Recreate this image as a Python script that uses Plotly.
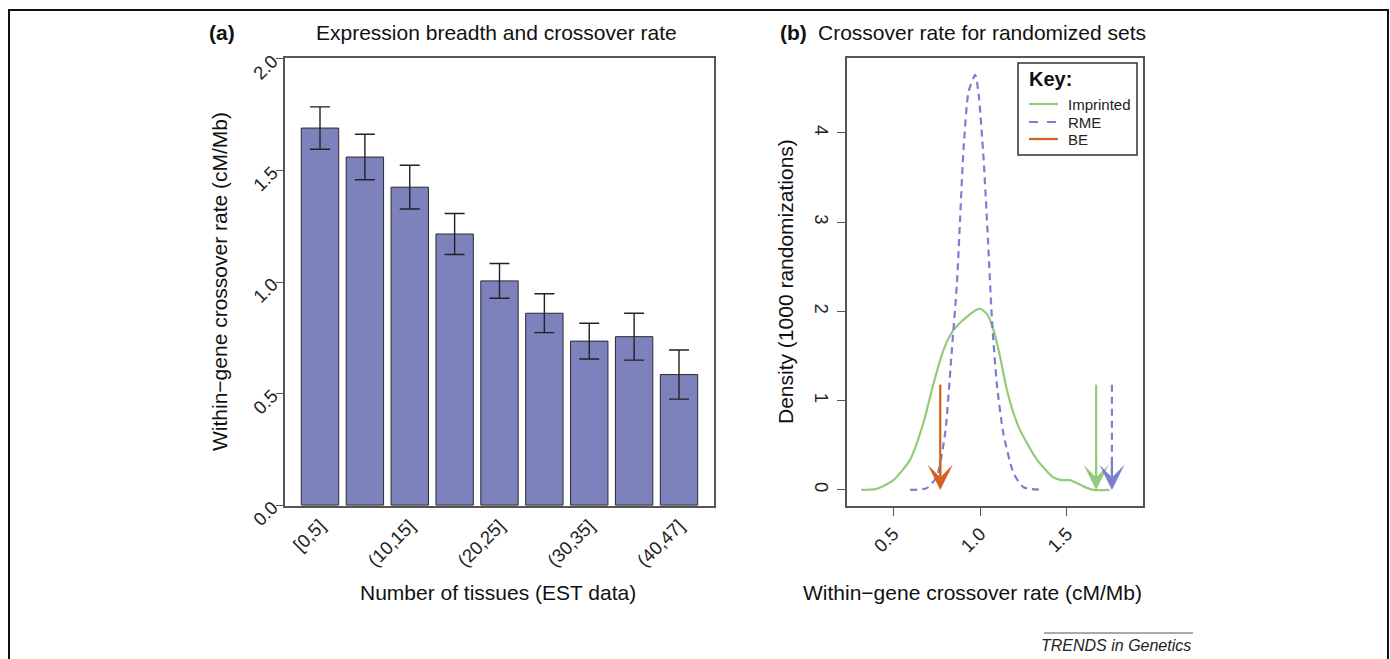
import plotly.graph_objects as go

# ---------------- data ----------------
tissue_bins = ["[0,5]", "(5,10]", "(10,15]", "(15,20]", "(20,25]",
               "(25,30]", "(30,35]", "(35,40]", "(40,47]"]
crossover_rate = [1.69, 1.56, 1.425, 1.215, 1.005, 0.86, 0.735, 0.755, 0.585]
crossover_err = [0.095, 0.102, 0.098, 0.092, 0.078, 0.087, 0.080, 0.105, 0.11]
shown_bin_labels = ["[0,5]", "(10,15]", "(20,25]", "(30,35]", "(40,47]"]

imprinted_x = [0.315, 0.40, 0.50, 0.597, 0.673, 0.731, 0.789, 0.846, 0.923, 0.98, 1.0,
               1.04, 1.077, 1.115, 1.154, 1.192, 1.23, 1.327, 1.422, 1.47, 1.518,
               1.595, 1.653, 1.745]
imprinted_y = [0.0, 0.01, 0.11, 0.34, 0.75, 1.19, 1.57, 1.79, 1.94, 2.02, 2.03,
               1.97, 1.79, 1.49, 1.12, 0.86, 0.67, 0.34, 0.14, 0.11, 0.11,
               0.04, 0.0, 0.0]
rme_x = [0.597, 0.693, 0.75, 0.798, 0.837, 0.866, 0.885, 0.904, 0.933, 0.971, 0.99,
         1.02, 1.048, 1.067, 1.096, 1.134, 1.192, 1.25, 1.365]
rme_y = [0.0, 0.02, 0.15, 0.63, 1.57, 2.31, 3.06, 3.81, 4.46, 4.65, 4.46,
         3.70, 2.69, 1.94, 1.19, 0.63, 0.19, 0.03, 0.0]

set_names = ["Imprinted", "RME", "BE"]
observed_rate = [1.668, 1.759, 0.77]   # arrow positions
arrow_top = 1.18

# ---------------- style ----------------
W, H = 1390, 659
FONT = "Liberation Sans, Arial, Helvetica, sans-serif"
BAR = "#7d82bd"
GREEN = "#92cb7c"
BLUE = "#7b7fcf"
ORANGE = "#d2621c"
AX = "#555555"
set_colors = [GREEN, BLUE, ORANGE]
set_dash = ["solid", "7px,5px", "solid"]
TS = 21  # title / axis-title size


def fx(p):
    return p / W


def fy(p):
    return 1 - p / H


fig = go.Figure()

# ---- panel (a) ----
xpos = list(range(1, len(tissue_bins) + 1))
fig.add_trace(go.Bar(
    x=xpos, y=crossover_rate, width=0.833,
    marker=dict(color=BAR, line=dict(color="#2a2a2a", width=1)),
    error_y=dict(type="data", array=crossover_err, color="#222222",
                 thickness=1.4, width=10),
    hovertext=tissue_bins, showlegend=False, xaxis="x", yaxis="y"))

# ---- panel (b) ----
fig.add_trace(go.Scatter(x=imprinted_x, y=imprinted_y, mode="lines",
                         line=dict(color=GREEN, width=2.2, shape="spline", smoothing=0.6),
                         name="Imprinted", showlegend=False, xaxis="x2", yaxis="y2"))
fig.add_trace(go.Scatter(x=rme_x, y=rme_y, mode="lines",
                         line=dict(color=BLUE, width=2.2, dash="7px,5px",
                                   shape="spline", smoothing=0.6),
                         name="RME", showlegend=False, xaxis="x2", yaxis="y2"))

annotations = []
for name, xv, col, dash in zip(set_names, observed_rate, set_colors, set_dash):
    fig.add_trace(go.Scatter(x=[xv, xv], y=[arrow_top, 0.17], mode="lines",
                             line=dict(color=col, width=2.2, dash=dash),
                             name=name, showlegend=False,
                             xaxis="x2", yaxis="y2"))
    annotations.append(dict(x=xv, y=0, ax=xv, ay=0.34, xref="x2", yref="y2",
                            axref="x2", ayref="y2", showarrow=True, arrowhead=3,
                            arrowsize=1.9, arrowwidth=2.2, arrowcolor=col,
                            standoff=0, text=""))


def label(text, x, y, size=TS, angle=0, color="#111", xanchor="center"):
    return dict(text=text, x=fx(x), y=fy(y), xref="paper", yref="paper",
                xanchor=xanchor, yanchor="middle", showarrow=False,
                textangle=angle, font=dict(size=size, color=color))


annotations += [
    label("<b>(a)</b>", 222, 33),
    label("Expression breadth and crossover rate", 496, 33),
    label("<b>(b)</b>", 793, 33),
    label("Crossover rate for randomized sets", 982, 33),
    label("Within\u2212gene crossover rate (cM/Mb)", 219, 282, angle=-90),
    label("Number of tissues (EST data)", 498, 592),
    label("Density (1000 randomizations)", 785, 282, angle=-90),
    label("Within\u2212gene crossover rate (cM/Mb)", 973, 592),
    label("<i>TRENDS in Genetics</i>", 1116, 645, size=16, color="#222"),
    # key box
    label("<b>Key:</b>", 1027, 79, size=20, xanchor="left"),
]

shapes = [
    dict(type="line", xref="paper", yref="paper", x0=fx(1044), x1=fx(1193),
         y0=fy(633), y1=fy(633), line=dict(color="#555", width=1)),
    dict(type="rect", xref="paper", yref="paper", x0=fx(9), x1=fx(1388),
         y0=fy(680), y1=fy(10), line=dict(color="#111", width=2)),
    dict(type="rect", xref="paper", yref="paper", x0=fx(1018), x1=fx(1137),
         y0=fy(155), y1=fy(63), line=dict(color="#333", width=1.5),
         fillcolor="white", layer="above"),
]
key_rows = [104, 122, 139]
for name, col, dash, ry in zip(set_names, set_colors, set_dash, key_rows):
    shapes.append(dict(type="line", xref="paper", yref="paper", x0=fx(1029), x1=fx(1058),
                       y0=fy(ry), y1=fy(ry), layer="above",
                       line=dict(color=col, width=2.2,
                                 dash="dash" if dash != "solid" else "solid")))
    annotations.append(label(name, 1066, ry, size=15, color="#222", xanchor="left"))

tickfont = dict(size=18.5, color="#222", family=FONT)
common = dict(showline=True, mirror=True, linecolor=AX, linewidth=1.5,
              showgrid=False, zeroline=False, tickfont=tickfont, automargin=False)
fig.update_layout(
    width=W, height=H, margin=dict(l=0, r=0, t=0, b=0, autoexpand=False),
    paper_bgcolor="white", plot_bgcolor="white", showlegend=False,
    font=dict(family=FONT, color="#111"),
    xaxis=dict(domain=[fx(285), fx(714)], range=[0.22, 9.78],
               tickvals=xpos[::2], ticktext=shown_bin_labels, tickangle=-45,
               ticks="", anchor="y", **common),
    yaxis=dict(domain=[fy(506), fy(58)], range=[-0.004, 2.004],
               tickvals=[0, 0.5, 1.0, 1.5, 2.0], ticktext=["0.0", "0.5", "1.0", "1.5", "2.0"],
               tickangle=-45, ticks="outside", ticklen=7, tickcolor=AX, tickwidth=1.3,
               anchor="x", **common),
    xaxis2=dict(domain=[fx(847), fx(1143)], range=[0.233, 1.938],
                tickvals=[0.5, 1.0, 1.5], ticktext=["0.5", "1.0", "1.5"], tickangle=-45,
                ticks="outside", ticklen=8, tickcolor=AX, tickwidth=1.3,
                anchor="y2", **common),
    yaxis2=dict(domain=[fy(506), fy(58)], range=[-0.18, 4.84],
                tickvals=[0, 1, 2, 3, 4], tickangle=90,
                ticks="outside", ticklen=8, tickcolor=AX, tickwidth=1.3,
                anchor="x2", **common),
    annotations=annotations, shapes=shapes,
)

fig.write_html("out.html", config={"displayModeBar": False},
               post_script="document.body.style.margin='0';document.body.style.overflow='hidden';")
